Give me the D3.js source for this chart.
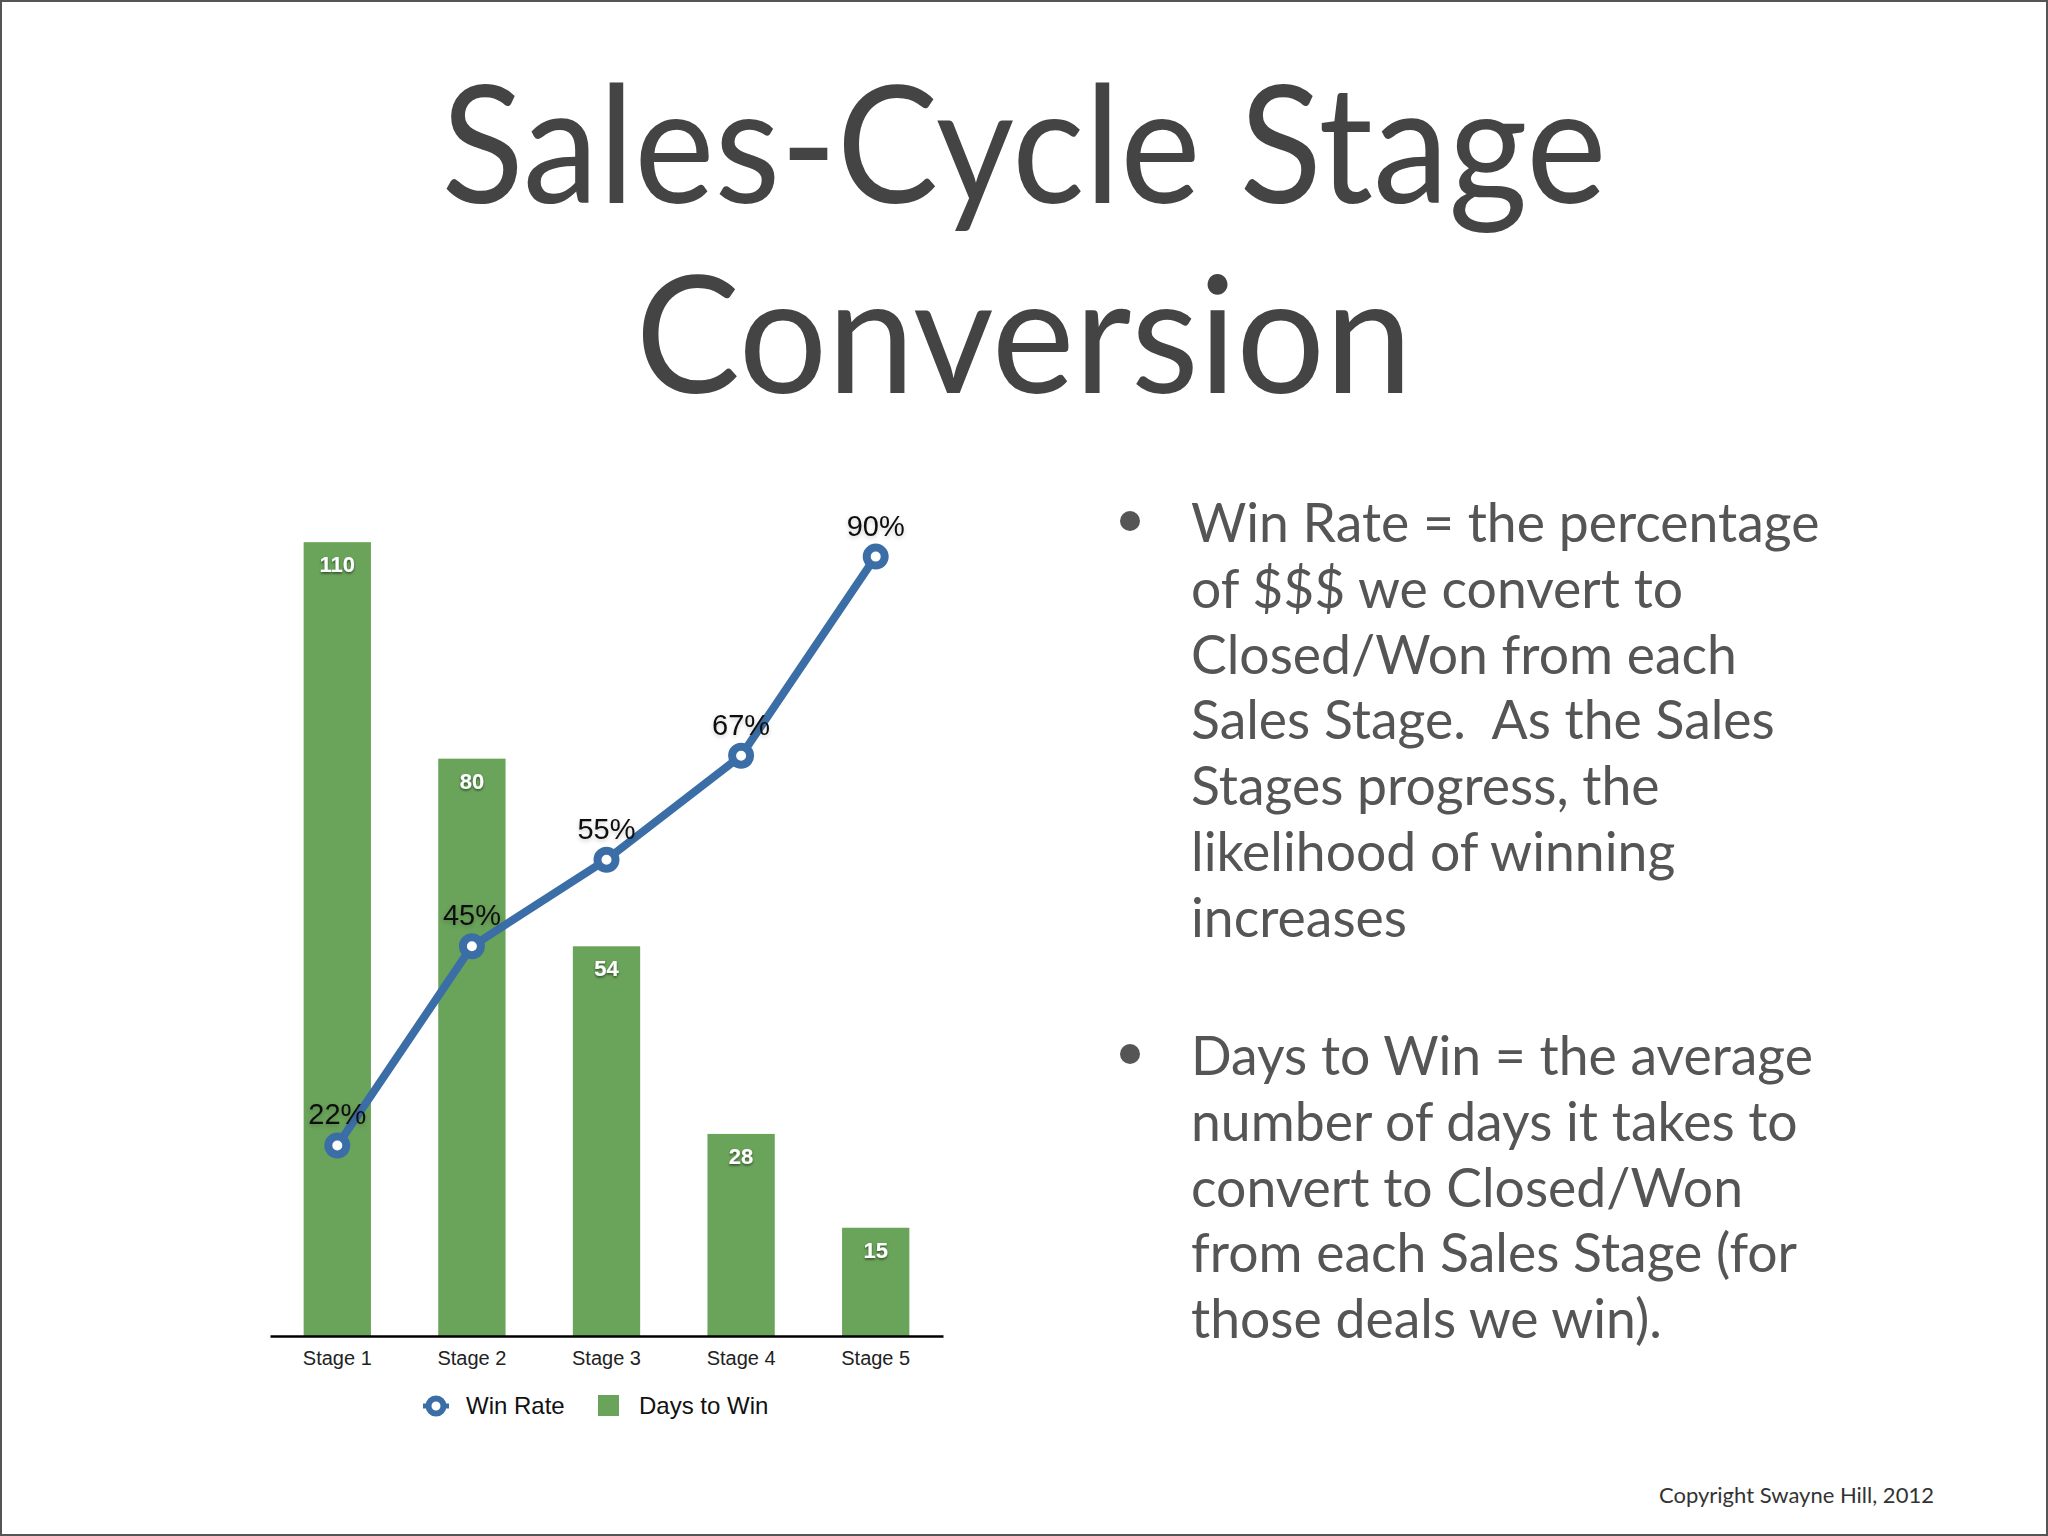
<!DOCTYPE html>
<html>
<head>
<meta charset="utf-8">
<script src="https://cdn.jsdelivr.net/npm/d3@7"></script>
<style>
  body { margin: 0; background: #fff; }
  svg { display: block; }
</style>
</head>
<body>
<svg width="2048" height="1536"></svg>
<script>
// chart data
let stages = ["Stage 1", "Stage 2", "Stage 3", "Stage 4", "Stage 5"]
let daysToWin = [110, 80, 54, 28, 15]
let winRate = [22, 45, 55, 67, 90]
let seriesNames = ["Win Rate", "Days to Win"]

// slide text
let titleLines = ["Sales-Cycle Stage", "Conversion"]
let bulletOne = ["Win Rate = the percentage", "of $$$ we convert to", "Closed/Won from each",
  "Sales Stage.  As the Sales", "Stages progress, the", "likelihood of winning", "increases"]
let bulletTwo = ["Days to Win = the average", "number of days it takes to", "convert to Closed/Won",
  "from each Sales Stage (for", "those deals we win)."]
let copyright = "Copyright Swayne Hill, 2012"

let green = "#6aa35a"
let blue = "#3b6ea7"
let gill = "'Gill Sans', 'Gill Sans MT', Lato, sans-serif"
let helv = "Helvetica, Arial, 'Liberation Sans', sans-serif"

var svg = d3.select("svg")

// page + frame
svg.append("rect")
  .attr("x", 1).attr("y", 1).attr("width", 2046).attr("height", 1534)
  .attr("fill", "#fff").attr("stroke", "#555").attr("stroke-width", 2)

var defs = svg.append("defs")
defs.append("filter").attr("id", "barShadow")
  .append("feDropShadow").attr("dx", 0).attr("dy", 1.5).attr("stdDeviation", 1.2)
  .attr("flood-color", "#000").attr("flood-opacity", 0.55)
defs.append("filter").attr("id", "labelGlow")
  .append("feDropShadow").attr("dx", 0).attr("dy", 2).attr("stdDeviation", 2)
  .attr("flood-color", "#000").attr("flood-opacity", 0.2)

// title (Gill Sans is narrower than the fallback, so squeeze to the slide's widths)
let titleWidths = [1165, 777]
svg.selectAll(".title").data(titleLines)
  .enter().append("text")
  .attr("class", "title")
  .attr("x", 1024)
  .attr("y", (d, i) => 203 + i * 190)
  .attr("text-anchor", "middle")
  .attr("textLength", (d, i) => titleWidths[i])
  .attr("lengthAdjust", "spacingAndGlyphs")
  .style("font-family", gill)
  .style("font-size", "163px")
  .style("fill", "#444")
  .text(d => d)

// scales
var x = d3.scaleBand().domain(stages).range([270, 943]).paddingInner(0.5).paddingOuter(0.25)
var yDays = d3.scaleLinear().domain([0, 120]).range([1336, 470])
var yRate = d3.scaleLinear().domain([0, 100]).range([1336, 470])
var cx = i => x(stages[i]) + x.bandwidth() / 2

// bars
svg.selectAll(".bar").data(daysToWin)
  .enter().append("rect")
  .attr("class", "bar")
  .attr("x", (d, i) => x(stages[i]))
  .attr("y", d => yDays(d))
  .attr("width", x.bandwidth())
  .attr("height", d => yDays(0) - yDays(d))
  .style("fill", green)

svg.selectAll(".barLabel").data(daysToWin)
  .enter().append("text")
  .attr("class", "barLabel")
  .attr("x", (d, i) => cx(i))
  .attr("y", d => yDays(d) + 30)
  .attr("text-anchor", "middle")
  .attr("filter", "url(#barShadow)")
  .style("font-family", helv)
  .style("font-size", "22px")
  .style("font-weight", "bold")
  .style("fill", "#fff")
  .text(d => d)

// axis
var axis = svg.append("g")
  .attr("transform", "translate(0," + yDays(0) + ")")
  .call(d3.axisBottom(x).tickSize(0).tickPadding(15))
axis.select(".domain").attr("stroke", "#000").attr("stroke-width", 2.5)
axis.selectAll("text")
  .style("font-family", helv)
  .style("font-size", "20px")
  .style("fill", "#222")

// win rate line
var line = d3.line()
  .x((d, i) => cx(i))
  .y(d => yRate(d))

svg.append("path")
  .datum(winRate)
  .attr("d", line)
  .attr("fill", "none")
  .attr("stroke", blue)
  .attr("stroke-width", 8)
  .attr("stroke-linejoin", "round")

svg.selectAll(".dot").data(winRate)
  .enter().append("circle")
  .attr("class", "dot")
  .attr("cx", (d, i) => cx(i))
  .attr("cy", d => yRate(d))
  .attr("r", 9)
  .style("fill", "#fff")
  .style("stroke", blue)
  .style("stroke-width", 8)

svg.selectAll(".rateLabel").data(winRate)
  .enter().append("text")
  .attr("class", "rateLabel")
  .attr("x", (d, i) => cx(i))
  .attr("y", d => yRate(d) - 21)
  .attr("text-anchor", "middle")
  .attr("filter", "url(#labelGlow)")
  .style("font-family", helv)
  .style("font-size", "29px")
  .style("fill", "#111")
  .text(d => d + "%")

// legend
var legend = svg.append("g")
legend.append("line")
  .attr("x1", 423).attr("x2", 449).attr("y1", 1406).attr("y2", 1406)
  .attr("stroke", blue).attr("stroke-width", 5)
legend.append("circle")
  .attr("cx", 436).attr("cy", 1406).attr("r", 7.5)
  .style("fill", "#fff").style("stroke", blue).style("stroke-width", 6)
legend.append("rect")
  .attr("x", 598).attr("y", 1395).attr("width", 21).attr("height", 21)
  .style("fill", green)
legend.selectAll("text").data(seriesNames)
  .enter().append("text")
  .attr("x", (d, i) => i == 0 ? 466 : 639)
  .attr("y", 1414)
  .style("font-family", helv)
  .style("font-size", "24px")
  .style("fill", "#111")
  .text(d => d)

// bullets on the right
function bullet(lines, top) {
  svg.append("circle")
    .attr("cx", 1130).attr("cy", top - 21).attr("r", 10)
    .style("fill", "#555")
  svg.append("g").selectAll("text").data(lines)
    .enter().append("text")
    .attr("x", 1191)
    .attr("y", (d, i) => top + i * 65.8)
    .attr("xml:space", "preserve")
    .style("white-space", "pre")
    .style("font-family", gill)
    .style("font-size", "53.5px")
    .style("fill", "#555")
    .text(d => d)
}
bullet(bulletOne, 542)
bullet(bulletTwo, 1075)

svg.append("text")
  .attr("x", 1659).attr("y", 1503)
  .style("font-family", gill)
  .style("font-size", "22px")
  .style("fill", "#333")
  .text(copyright)
</script>
</body>
</html>
